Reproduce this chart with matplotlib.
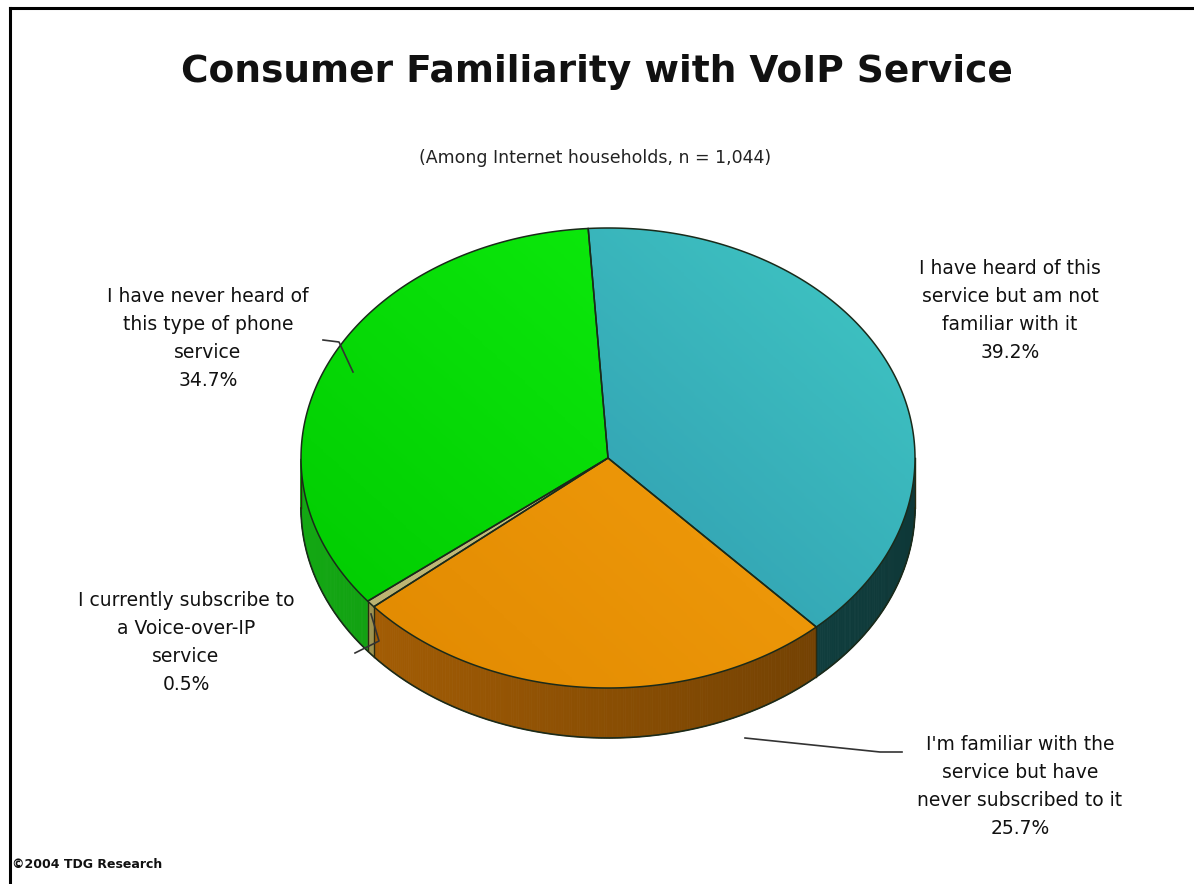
import matplotlib.pyplot as plt
import numpy as np
from matplotlib.patches import Polygon
from matplotlib.lines import Line2D
from matplotlib.colors import to_rgb, LinearSegmentedColormap

# data (clockwise from the top)
labels = ["I have heard of this\nservice but am not\nfamiliar with it",
          "I'm familiar with the\nservice but have\nnever subscribed to it",
          "I currently subscribe to\na Voice-over-IP\nservice",
          "I have never heard of\nthis type of phone\nservice"]
shares = [39.2, 25.7, 0.5, 34.7]

# colours: top face light/dark, side wall
top_light = ['#40C8C4', '#F8A410', '#E6DE96', '#10F410']
top_dark = ['#2A88A8', '#E08800', '#B4AC6C', '#00C800']
side_col = ['#165656', '#A25C04', '#9C9250', '#12A012']

# label placement (top centre of each text block) and leader lines
label_xy = [(1010, 259), (1020, 735), (186, 591), (208, 287)]
leaders = [None,
           [(745, 738), (880, 752), (902, 752)],
           [(355, 653), (379, 641), (371, 614)],
           [(323, 340), (339, 342), (353, 372)]]

cx, cy, rx, ry, depth = 608, 458, 307, 230, 50
start = 93.7

fig = plt.figure(figsize=(11.94, 8.84), dpi=100)
ax = fig.add_axes([0, 0, 1, 1])
ax.axis('off')


def pt(t, dy=0):
    r = np.radians(t)
    return cx + rx * np.cos(r), cy - ry * np.sin(r) + dy


# slice angles (clockwise)
bounds = [start]
for v in shares:
    bounds.append(bounds[-1] - v / sum(shares) * 360)

# side walls (front half only)
for i in range(len(shares)):
    a, b = bounds[i], bounds[i + 1]
    ts = np.linspace(a, b, max(int(abs(a - b) * 2), 2))
    base = np.array(to_rgb(side_col[i]))
    for t1, t2 in zip(ts[:-1], ts[1:]):
        tm = (t1 + t2) / 2
        if np.sin(np.radians(tm)) >= 0:
            continue
        f = 1.05 - 0.4 * (np.cos(np.radians(tm)) + 1) / 2
        c = np.clip(base * f, 0, 1)
        quad = [pt(t1), pt(t2), pt(t2, depth), pt(t1, depth)]
        ax.add_patch(Polygon(quad, closed=True, fc=c, ec=c, lw=0.6, zorder=1))

# outline of the wall
ts = np.linspace(180, 360, 200)
xs, ys = zip(*[pt(t, depth) for t in ts])
ax.plot(xs, ys, color='#1a2a1a', lw=1.2, zorder=2)
for t in [180, 360] + [b for b in bounds if np.sin(np.radians(b)) < 0]:
    x0, y0 = pt(t)
    ax.plot([x0, x0], [y0, y0 + depth], color='#2a2a10', lw=1.0, zorder=2)

# top faces with a soft gradient
gx, gy = np.meshgrid(np.linspace(0, 1, 200), np.linspace(0, 1, 200))
grad = 0.55 * gx + 0.45 * (1 - gy)
ext = (cx - rx, cx + rx, cy + ry, cy - ry)
for i in range(len(shares)):
    a, b = bounds[i], bounds[i + 1]
    ts = np.linspace(a, b, max(int(abs(a - b) * 2), 3))
    verts = [(cx, cy)] + [pt(t) for t in ts]
    poly = Polygon(verts, closed=True, fc='none', ec='#1a2a1a', lw=1.1, zorder=4)
    ax.add_patch(poly)
    cmap = LinearSegmentedColormap.from_list('g%d' % i, [top_dark[i], top_light[i]])
    im = ax.imshow(grad, cmap=cmap, extent=ext, origin='upper', aspect='auto',
                   vmin=0, vmax=1, zorder=3, interpolation='bilinear')
    im.set_clip_path(poly)
ax.set_xlim(0, 1194)
ax.set_ylim(884, 0)

# labels
for i in range(len(shares)):
    x, y = label_xy[i]
    ax.text(x, y, labels[i] + "\n%.1f%%" % shares[i], ha='center', va='top',
            fontsize=13.5, linespacing=1.6, color='#111111', zorder=6)
    if leaders[i]:
        lx, ly = zip(*leaders[i])
        ax.plot(lx, ly, color='#333333', lw=1.2, zorder=5)

# titles
ax.text(597, 72, "Consumer Familiarity with VoIP Service", ha='center', va='center',
        fontsize=27, fontweight='bold', color='#111111')
ax.text(595, 158, "(Among Internet households, n = 1,044)", ha='center', va='center',
        fontsize=12.5, color='#222222')
ax.text(12, 865, "\u00a92004 TDG Research", ha='left', va='center',
        fontsize=9, fontweight='bold', color='#111111')

# frame
fig.add_artist(Line2D([10 / 1194, 1192 / 1194], [1 - 8 / 884, 1 - 8 / 884],
                      color='black', lw=2.2))
fig.add_artist(Line2D([10 / 1194, 10 / 1194], [1 - 8 / 884, 0],
                      color='black', lw=2.2))

plt.savefig('out.png', dpi=100)
